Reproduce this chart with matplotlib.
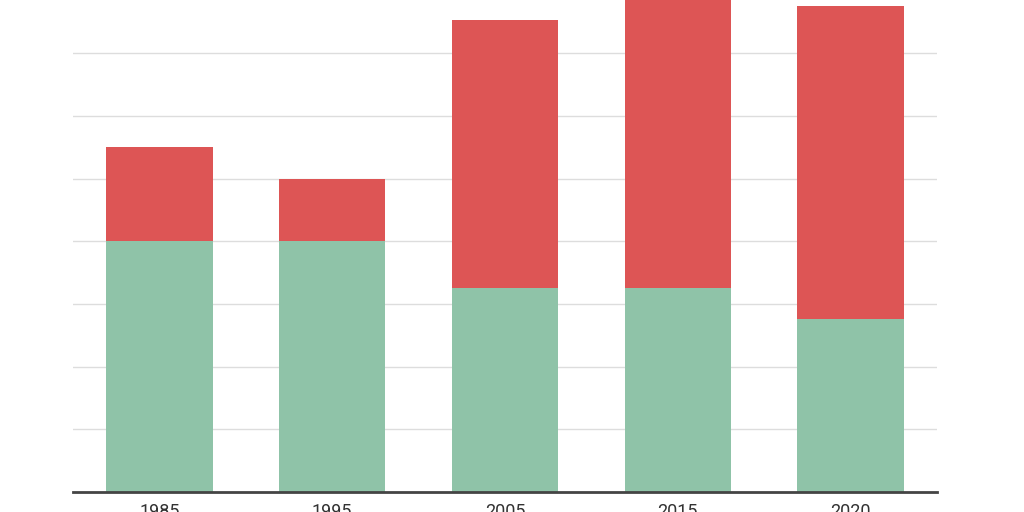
import matplotlib
matplotlib.use("Agg")
import matplotlib.pyplot as plt

years = ["1985", "1995", "2005", "2015", "2020"]
green = [4.0, 4.0, 3.25, 3.25, 2.76]
red = [1.5, 1.0, 4.28, 4.7, 4.99]

plt.rcParams['font.family'] = ['Roboto', 'DejaVu Sans']
fig = plt.figure(figsize=(10.24, 5.12), dpi=100)
ax = fig.add_axes([73/1024, 20/512, 864/1024, 492/512])
x = range(len(years))
ax.bar(x, green, width=0.615, color="#8fc3a8", zorder=2)
ax.bar(x, red, bottom=green, width=0.615, color="#dd5555", zorder=2)
ax.set_xlim(-0.5, 4.5)
ax.set_ylim(0, 492/62.7)
ax.set_yticks([1, 2, 3, 4, 5, 6, 7])
ax.yaxis.grid(True, color="#dddddd", linewidth=1, zorder=0)
ax.tick_params(axis='y', length=0, labelleft=False)
ax.set_xticks(list(x))
ax.set_xticklabels(years, fontsize=13, color="#333333")
ax.tick_params(axis='x', length=0, pad=8)
for s in ["top", "right", "left"]:
    ax.spines[s].set_visible(False)
ax.spines["bottom"].set_color("#444444")
ax.spines["bottom"].set_linewidth(2)
ax.spines["bottom"].set_zorder(3)
fig.savefig("out.png", dpi=100)
